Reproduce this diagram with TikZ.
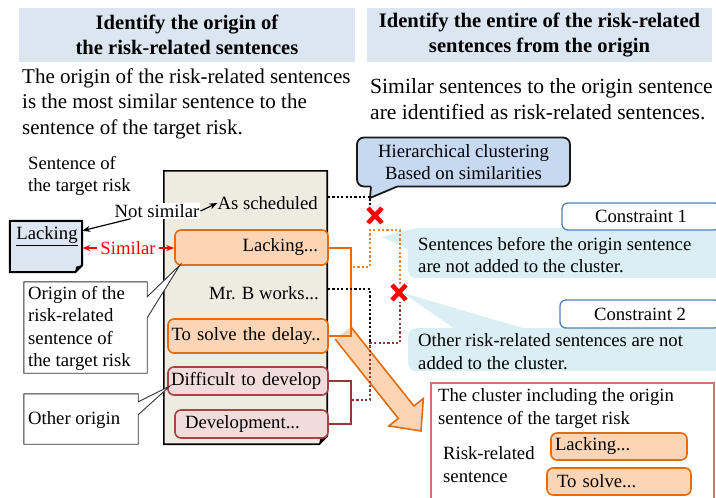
\documentclass[tikz,border=0pt]{standalone}
\usepackage{fontspec}
\setmainfont{Liberation Serif}
\usetikzlibrary{calc,arrows.meta}
\definecolor{titlebg}{HTML}{DCE6F2}
\definecolor{docfill}{HTML}{EEECE1}
\definecolor{orgfill}{HTML}{FBD5B5}
\definecolor{orgdraw}{HTML}{E46C0A}
\definecolor{pinkfill}{HTML}{F2DCDB}
\definecolor{pinkdraw}{HTML}{A54442}
\definecolor{maroonc}{HTML}{953735}
\definecolor{tdocfill}{HTML}{DCE6F2}
\definecolor{hcfill}{HTML}{C6D9F1}
\definecolor{cdraw}{HTML}{4F81BD}
\definecolor{descfill}{HTML}{DAEEF3}
\definecolor{clusterdraw}{HTML}{D07270}
\definecolor{orgdot}{HTML}{EE8236}
\newcommand\myTitleFont{\fontsize{20.6}{25}\selectfont\bfseries}
\newcommand\myBodyFont{\fontsize{21}{25.5}\selectfont}
\newcommand\myBodyFontR{\fontsize{21.6}{26}\selectfont}
\newcommand\myDiagFont{\fontsize{18.7}{22.5}\selectfont}
\begin{document}
\begin{tikzpicture}[x=1pt,y=-1pt,
  titlebox/.style={fill=titlebg, minimum height=54pt, align=center, font=\myTitleFont, inner sep=0pt},
  bodytext/.style={anchor=west, align=left, inner sep=0pt, font=\myBodyFont},
  diag/.style={font=\myDiagFont, inner sep=0pt},
  diagml/.style={font=\myDiagFont, inner sep=0pt, align=left, anchor=west},
  obox/.style={draw=orgdraw, fill=orgfill, rounded corners=6pt, line width=1.6pt, font=\myDiagFont, inner ysep=0pt},
  pbox/.style={draw=pinkdraw, fill=pinkfill, rounded corners=6pt, line width=1.6pt, font=\myDiagFont, inner ysep=0pt},
  callbox/.style={draw=black!80, fill=white, line width=0.9pt},
  blackarrow/.style={-{Stealth[length=8pt,width=6pt]}, line width=1.2pt},
  redarrow/.style={-{Stealth[length=8pt,width=6pt]}, line width=1.2pt, red},
  blkdot/.style={black, line width=2.2pt, dash pattern=on 2.2pt off 2.2pt},
  orgdotted/.style={orgdot, line width=2.2pt, dash pattern=on 2.2pt off 2.2pt},
  mardot/.style={maroonc, line width=2.2pt, dash pattern=on 2.2pt off 2.2pt},
  xmark/.style={red, line width=4.5pt},
  cbox/.style={draw=cdraw, fill=white, rounded corners=6pt, line width=1.3pt, font=\myDiagFont, inner sep=0pt},
  descbox/.style={fill=descfill, rounded corners=8pt, inner sep=0pt},
]
\useasboundingbox (0,0) rectangle (716,498);
\fill[white] (0,0) rectangle (716,498);

% titles and explanations
\node[titlebox, minimum width=336pt] (t1) at (187,35) {Identify the origin of\\the risk-related sentences};
\node[titlebox, minimum width=345pt] (t2) at (539.5,35) {Identify the entire of the risk-related\\sentences from the origin};
\node[bodytext] (b1) at (22,103.5) {The origin of the risk-related sentences\\is the most similar sentence to the\\sentence of the target risk.};
\node[bodytext, font=\myBodyFontR] (b2) at (370,99) {Similar sentences to the origin sentence\\are identified as risk-related sentences.};

% sentence of the target risk
\node[diagml] (stl) at (28,176) {Sentence of\\the target risk};
\node[minimum width=72pt, minimum height=51pt, inner sep=0pt] (tdoc) at (46,246.5) {};
\draw[fill=tdocfill, line width=2pt] (tdoc.north west) -- (tdoc.north east) -- ([yshift=7pt]tdoc.south east) -- ([xshift=-7pt]tdoc.south east) -- (tdoc.south west) -- cycle;
\fill ([yshift=7pt]tdoc.south east) -- ([xshift=-7pt]tdoc.south east) -- ([xshift=-6pt,yshift=5.5pt]tdoc.south east) -- cycle;
\node[diag] (tlack) at (47,236) {\underline{Lacking}};

% document of sentences
\node[minimum width=163pt, minimum height=273pt, inner sep=0pt] (doc) at (245.5,307.5) {};
\draw[fill=docfill, line width=1.6pt] (doc.north west) -- (doc.north east) -- ([yshift=8pt]doc.south east) -- ([xshift=-8pt]doc.south east) -- (doc.south west) -- cycle;
\fill ([yshift=8pt]doc.south east) -- ([xshift=-8pt]doc.south east) -- ([xshift=-7pt,yshift=6pt]doc.south east) -- cycle;

% big arrow
\fill[orgfill] (350.8,326.8) -- (413.9,406) -- (423.3,398.5) -- (421,431) -- (388.9,425.9) -- (398.3,418.4) -- (335.2,339.2) -- cycle;
\draw[orgdraw, line width=1.6pt, line join=miter] (350.8,326.8) -- (413.9,406) -- (423.3,398.5) -- (421,431) -- (388.9,425.9) -- (398.3,418.4) -- (335.2,339.2);

\node[diag, anchor=east] (sched) at (318,203) {As scheduled};
\node[obox, minimum width=153pt, minimum height=35pt, text width=133pt, inner xsep=10pt, align=right] (lack) at (251.5,247.5) {\mbox{Lacking...}};
\node[diag, anchor=east] (mrb) at (319,293) {Mr. B works...};
\node[obox, minimum width=160pt, minimum height=34pt, text width=153pt, inner xsep=3.5pt, align=left] (solve) at (248,336) {\mbox{To solve the delay..}};
\node[pbox, minimum width=160pt, minimum height=28pt, text width=154pt, inner xsep=3pt, align=left] (diff) at (248,381) {\mbox{Difficult to develop}};
\node[pbox, minimum width=153pt, minimum height=28pt, text width=133pt, inner xsep=10pt, align=left] (devel) at (251.5,424) {\mbox{Development...}};

% similarity labels
\node[diag, fill=white, inner sep=1pt] (nsim) at (157,211) {Not similar};
\draw[blackarrow] (nsim.east) -- (sched.west);
\draw[blackarrow] ([xshift=17pt]nsim.south west) -- ([yshift=-10pt]tdoc.north east);
\node[diag, text=red, inner sep=3pt] (sim) at (128,248) {Similar};
\draw[redarrow] (sim.west) -- (tdoc.east |- sim.west);
\draw[redarrow] (sim.east) -- (lack.west |- sim.east);

% callouts on the left
\node[minimum width=123pt, minimum height=91pt, inner sep=0pt] (origbox) at (85.5,327.5) {};
\draw[callbox] (origbox.north west) -- (origbox.north east) -- ([yshift=-15pt]origbox.north east) -- (180,265) -- ([yshift=-36pt]origbox.north east) -- (origbox.south east) -- (origbox.south west) -- cycle;
\node[diagml] (origt) at (28,328.5) {Origin of the\\risk-related\\sentence of\\the target risk};
\node[minimum width=114pt, minimum height=50pt, inner sep=0pt] (othbox) at (81,419) {};
\draw[callbox] (othbox.north west) -- (othbox.north east) -- ([yshift=-8pt]othbox.north east) -- (170,386) -- ([yshift=-21pt]othbox.north east) -- (othbox.south east) -- (othbox.south west) -- cycle;
\node[diagml] (otht) at (28,420) {Other origin};

% brackets
\draw[orgdraw, line width=2pt] (lack.east) -- ++(22,0) coordinate (ob1) -- (ob1 |- solve.east) -- (solve.east);
\draw[maroonc, line width=2pt] (diff.east) -- ++(22,0) coordinate (mb1) -- (mb1 |- devel.east) -- (devel.east);

% hierarchical clustering callout
\node[draw=black!90, fill=hcfill, rounded corners=7pt, line width=1.8pt, minimum width=213pt, minimum height=49pt, align=center, font=\myDiagFont, inner sep=0pt] (hc) at (463.5,162) {Hierarchical clustering\\Based on similarities};
\coordinate (hctip) at (370,198);
\fill[hcfill] (371,186.5) -- (hctip) -- (397,186.5) -- (397,183) -- (371,183) -- cycle;
\draw[black!90, line width=1.8pt] (371,186.6) -- (hctip) -- (397,186.6);

% constraint descriptions
\node[descbox, anchor=north west, minimum width=322pt, minimum height=50pt] (d1) at (408,228) {};
\fill[descfill] (382,237) -- (412,229) -- (412,251) -- cycle;
\node[diagml] (d1t) at (418,255) {Sentences before the origin sentence\\are not added to the cluster.};
\node[descbox, anchor=north west, minimum width=322pt, minimum height=43pt] (d2) at (408,328) {};
\fill[descfill] (403,293) -- (458,331) -- (533,331) -- cycle;
\node[diagml] (d2t) at (418,351.5) {Other risk-related sentences are not\\added to the cluster.};
\node[cbox, minimum width=158pt, minimum height=27pt] (c1) at (641,216.5) {Constraint 1};
\node[cbox, minimum width=160pt, minimum height=28pt] (c2) at (640,314) {Constraint 2};

% dendrogram
\coordinate (j1) at (370,197);
\coordinate (j2) at (370,230);
\coordinate (j3) at (400,230);
\coordinate (j4) at (370,289);
\coordinate (j5) at (370,343);
\coordinate (j6) at (400,343);
\draw[blkdot] (sched.east |- j1) ++(10,0) -- (j1) -- ++(0,8);
\draw[orgdotted] (353,267) -- (j2 |- 0,267) -- (j2) -- (j3) -- ++(0,54);
\draw[blkdot] (mrb.east |- j4) ++(9,0) -- (j4) -- (j5);
\draw[mardot] (352,400) -- (j5 |- 0,400) -- (j5) -- (j6) -- ++(0,-41);
\draw[xmark] (368,208) -- (382,223) (382,208) -- (368,223);
\draw[xmark] (392,285) -- (406,300) (406,285) -- (392,300);

% cluster result
\node[draw=clusterdraw, fill=white, line width=1.5pt, anchor=north west, minimum width=283pt, minimum height=125pt, inner sep=0pt] (cl) at (430,382) {};
\node[diagml] (clt) at (438,408.5) {The cluster including the origin\\sentence of the target risk};
\node[diagml] (rr) at (443,464.5) {Risk-related\\sentence};
\node[obox, minimum width=136pt, minimum height=27pt, text width=128pt, inner xsep=4pt, align=left] (cl1) at (619,446.5) {\mbox{Lacking...}};
\node[obox, minimum width=136pt, minimum height=27pt, text width=124pt, inner xsep=10pt, align=left] (cl2) at (619,481.5) {\mbox{To solve...}};
\end{tikzpicture}
\end{document}
